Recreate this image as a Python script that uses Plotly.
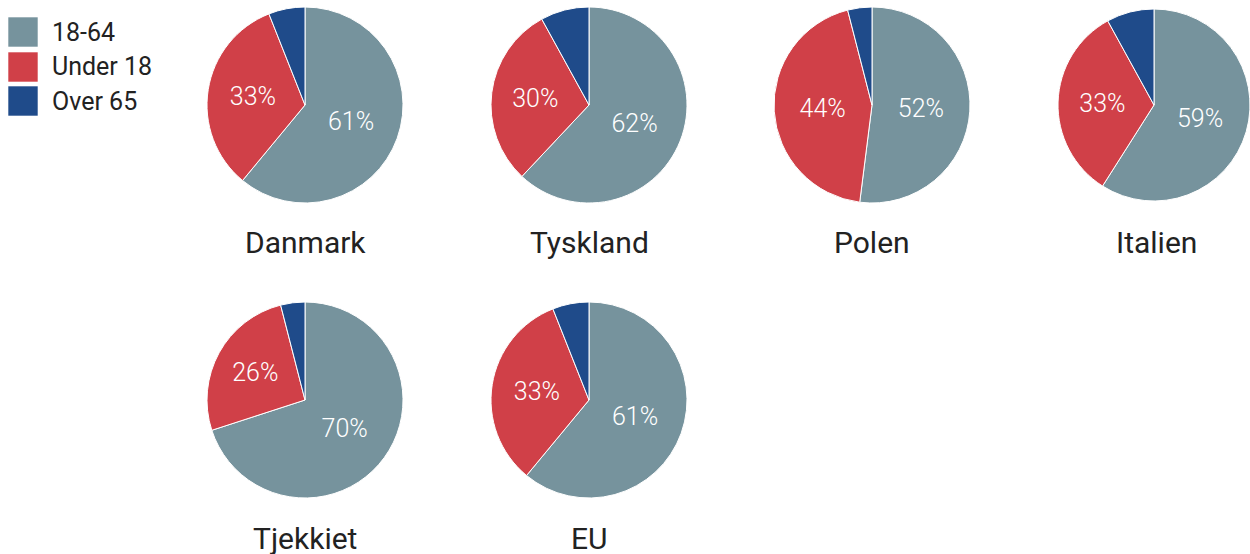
import plotly.graph_objects as go

W, H = 1250, 554

countries = ["Danmark", "Tyskland", "Polen", "Italien", "Tjekkiet", "EU"]
groups = ["18-64", "Under 18", "Over 65"]
share_18_64 = [61, 62, 52, 59, 70, 61]
share_under18 = [33, 30, 44, 33, 26, 33]
share_over65 = [6, 8, 4, 8, 4, 6]
colors = ["#76939D", "#D04048", "#1F4B8A"]

# pixel layout (centres of pies)
centers = [(305, 105), (589, 105), (872, 105), (1156, 105), (305, 400), (589, 400)]
R = 98
title_y = {105: 242, 400: 538}

FONT = "Roboto"

fig = go.Figure()
for i, c in enumerate(countries):
    cx, cy = centers[i]
    x0 = max(0.0, (cx - R) / W)
    x1 = min(1.0, (cx + R) / W)
    y0 = 1 - (cy + R) / H
    y1 = 1 - (cy - R) / H
    fig.add_trace(go.Pie(
        labels=groups,
        values=[share_18_64[i], share_under18[i], share_over65[i]],
        marker=dict(colors=colors, line=dict(color="white", width=1)),
        sort=False,
        direction="clockwise",
        rotation=0,
        texttemplate=["%{value}%", "%{value}%", ""],
        textposition="inside",
        insidetextorientation="horizontal",
        textfont=dict(family=FONT, size=25, color="white", weight=300),
        domain=dict(x=[x0, x1], y=[y0, y1]),
        showlegend=False,
        hoverinfo="label+percent",
    ))
    fig.add_annotation(
        x=cx / W, y=1 - title_y[cy] / H, xref="paper", yref="paper",
        text=c, showarrow=False, xanchor="center", yanchor="middle",
        font=dict(family=FONT, size=30, color="#222222"),
    )

# custom legend
sw_top = [17, 52, 86]
for g, col, t in zip(groups, colors, sw_top):
    fig.add_shape(
        type="rect", xref="paper", yref="paper",
        x0=8 / W, x1=38 / W, y0=1 - (t + 30) / H, y1=1 - t / H,
        fillcolor=col, line=dict(color="rgba(255,255,255,0.6)", width=1),
    )
    fig.add_annotation(
        x=50 / W, y=1 - (t + 15) / H, xref="paper", yref="paper",
        text=g, showarrow=False, xanchor="left", yanchor="middle",
        font=dict(family=FONT, size=25, color="#222222"),
    )

fig.update_layout(
    width=W, height=H,
    margin=dict(l=0, r=0, t=0, b=0),
    paper_bgcolor="white", plot_bgcolor="white",
    font=dict(family=FONT),
)

fig.write_html(
    "out.html",
    config={"displayModeBar": False},
    post_script="document.body.style.margin='0';document.body.style.overflow='hidden';",
)
